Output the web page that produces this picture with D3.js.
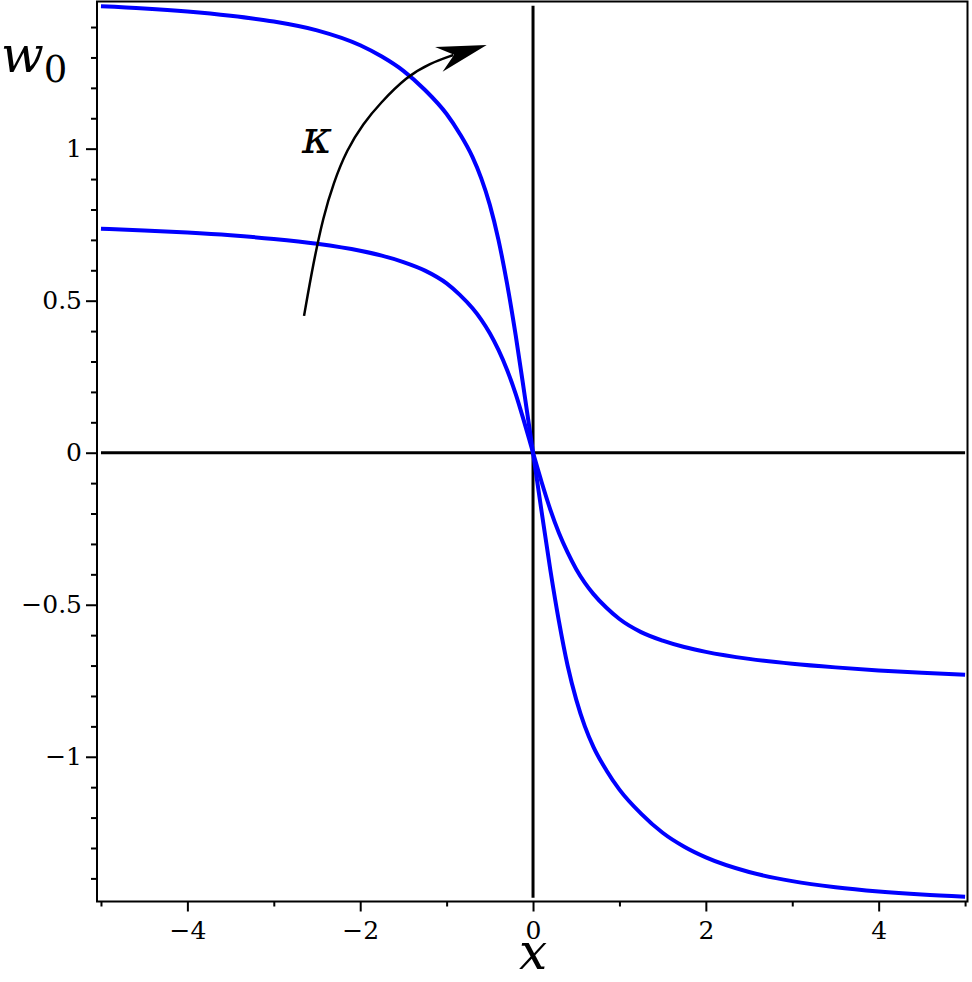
<!DOCTYPE html>
<html>
<head>
<meta charset="utf-8">
<script src="https://cdn.jsdelivr.net/npm/d3@7"></script>
<style>
  body { margin: 0; background: #fff; }
  svg { display: block; }
</style>
</head>
<body>
<div id="chart"></div>
<script>
const xs = [-5, -4.5, -4, -3.5, -3, -2.5, -2, -1.75, -1.5, -1.25, -1, -0.85, -0.7, -0.6, -0.5, -0.4, -0.3, -0.2, -0.1,
    0, 0.1, 0.2, 0.3, 0.4, 0.5, 0.6, 0.7, 0.85, 1, 1.25, 1.5, 1.75, 2, 2.5, 3, 3.5, 4, 4.5, 5];

// steeper curve (larger kappa)
const wOuter = [1.468, 1.461, 1.451, 1.437, 1.418, 1.389, 1.340, 1.303, 1.256, 1.193, 1.114, 1.050, 0.972, 0.903, 0.815, 0.700, 0.555, 0.385, 0.195,
    0, -0.195, -0.385, -0.555, -0.700, -0.812, -0.900, -0.968, -1.045, -1.108, -1.187, -1.250, -1.296, -1.331, -1.379, -1.409, -1.429, -1.443, -1.453, -1.460];

// flatter curve (smaller kappa)
const wInner = [0.737, 0.731, 0.724, 0.715, 0.703, 0.687, 0.664, 0.648, 0.627, 0.599, 0.557, 0.520, 0.475, 0.438, 0.393, 0.338, 0.272, 0.193, 0.099,
    0, -0.097, -0.187, -0.264, -0.328, -0.383, -0.428, -0.465, -0.510, -0.547, -0.590, -0.618, -0.639, -0.655, -0.678, -0.694, -0.706, -0.716, -0.724, -0.730];

// kappa arrow, in data units
const arrowX = [-2.650, -2.543, -2.427, -2.311, -2.156, -1.964, -1.771, -1.462, -1.192, -0.922];
const arrowY = [0.450, 0.623, 0.776, 0.886, 0.996, 1.083, 1.149, 1.237, 1.281, 1.308];
const arrowTip = [-0.536, 1.341];

const xMajor = [-4, -2, 0, 2, 4];
const xMinor = [-5, -3, -1, 1, 3, 5];
const yMajor = [-1, -0.5, 0, 0.5, 1];
const yMinor = [-1.4, -1.3, -1.2, -1.1, -0.9, -0.8, -0.7, -0.6, -0.4, -0.3, -0.2, -0.1,
    0.1, 0.2, 0.3, 0.4, 0.6, 0.7, 0.8, 0.9, 1.1, 1.2, 1.3, 1.4];

const width = 972;
const height = 982;
const margin = { top: 1.5, right: 4.5, bottom: 80.5, left: 97 };
const serif = 'DejaVu Serif';

const svg = d3.select('#chart')
    .append('svg')
    .attr('width', width)
    .attr('height', height);

const x = d3.scaleLinear()
    .domain([-5.046, 5.028])
    .range([margin.left, width - margin.right]);

const y = d3.scaleLinear()
    .domain([-1.476, 1.484])
    .range([height - margin.bottom, margin.top]);

const fmt = d3.format('');

// x axis ticks
svg.append('g')
    .attr('transform', `translate(0,${height - margin.bottom})`)
    .call(d3.axisBottom(x).tickValues(xMajor).tickSize(10).tickPadding(10).tickFormat(fmt));
svg.append('g')
    .attr('transform', `translate(0,${height - margin.bottom})`)
    .call(d3.axisBottom(x).tickValues(xMinor).tickSize(5).tickFormat(''));

// y axis ticks
svg.append('g')
    .attr('transform', `translate(${margin.left},0)`)
    .call(d3.axisLeft(y).tickValues(yMajor).tickSize(11).tickPadding(4).tickFormat(fmt));
svg.append('g')
    .attr('transform', `translate(${margin.left},0)`)
    .call(d3.axisLeft(y).tickValues(yMinor).tickSize(6).tickFormat(''));

svg.selectAll('.domain').remove();
svg.selectAll('.tick line').attr('stroke', '#000').attr('stroke-width', 2);
svg.selectAll('g')
    .attr('font-family', serif)
    .attr('font-size', 25);
svg.selectAll('.tick text').attr('fill', '#000');

// frame
svg.append('rect')
    .attr('x', margin.left)
    .attr('y', margin.top)
    .attr('width', width - margin.left - margin.right)
    .attr('height', height - margin.top - margin.bottom)
    .attr('fill', 'none')
    .attr('stroke', '#000')
    .attr('stroke-width', 2);

// zero lines
svg.append('line')
    .attr('x1', x(-5)).attr('x2', x(5))
    .attr('y1', y(0)).attr('y2', y(0))
    .attr('stroke', '#000')
    .attr('stroke-width', 3);
svg.append('line')
    .attr('x1', x(0)).attr('x2', x(0))
    .attr('y1', y(1.47)).attr('y2', y(-1.464))
    .attr('stroke', '#000')
    .attr('stroke-width', 3);

// curves
const line = d3.line()
    .x(d => x(d[0]))
    .y(d => y(d[1]))
    .curve(d3.curveMonotoneX);

const series = [wInner, wOuter];
svg.selectAll('.curve')
    .data(series)
    .enter().append('path')
    .attr('class', 'curve')
    .attr('d', vals => line(xs.map((v, i) => [v, vals[i]])))
    .attr('fill', 'none')
    .attr('stroke', '#0000ff')
    .attr('stroke-width', 4);

// kappa arrow
const arrowPts = arrowX.map((v, i) => [v, arrowY[i]]);
svg.append('path')
    .attr('d', d3.line().x(d => x(d[0])).y(d => y(d[1])).curve(d3.curveBasis)(arrowPts))
    .attr('fill', 'none')
    .attr('stroke', '#000')
    .attr('stroke-width', 2.5);

const last = arrowPts[arrowPts.length - 1];
const ang = Math.atan2(y(arrowTip[1]) - y(last[1]), x(arrowTip[0]) - x(last[0])) * 180 / Math.PI;
svg.append('path')
    .attr('d', 'M0,0 L-50,-13 L-34,0 L-50,13 Z')
    .attr('transform', `translate(${x(arrowTip[0])},${y(arrowTip[1])}) rotate(${ang})`)
    .attr('fill', '#000');

svg.append('text')
    .attr('x', 302)
    .attr('y', 153)
    .attr('font-family', serif)
    .attr('font-style', 'italic')
    .attr('font-size', 46)
    .text('κ');

// axis labels
const wLabel = svg.append('text')
    .attr('x', 1)
    .attr('y', 72)
    .attr('font-family', serif)
    .attr('font-size', 50);
wLabel.append('tspan').attr('font-style', 'italic').text('w');
wLabel.append('tspan').attr('font-size', 37).attr('dy', 10).text('0');

svg.append('text')
    .attr('x', x(0))
    .attr('y', 969)
    .attr('text-anchor', 'middle')
    .attr('font-family', serif)
    .attr('font-style', 'italic')
    .attr('font-size', 50)
    .text('x');
</script>
</body>
</html>
